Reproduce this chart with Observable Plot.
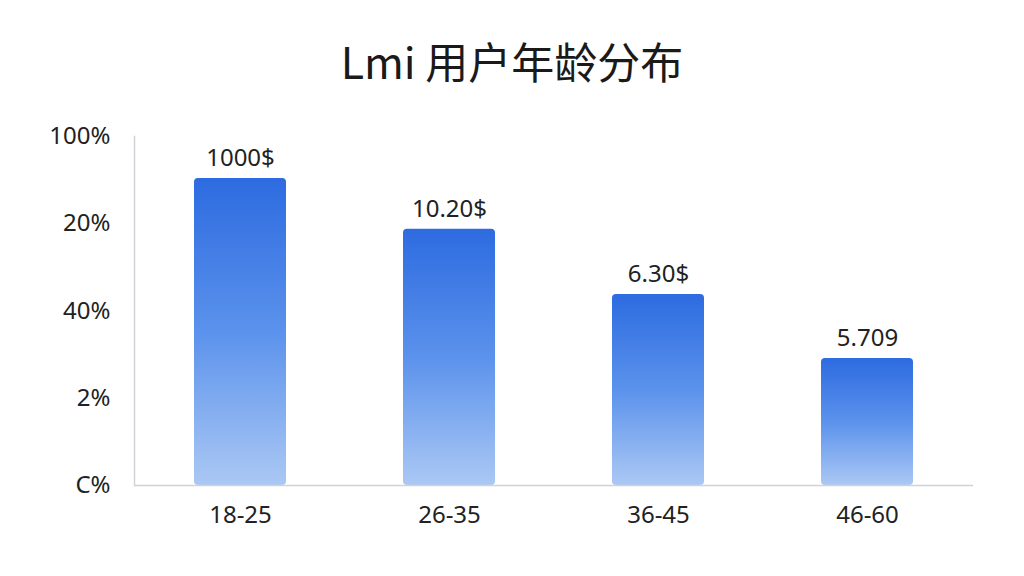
<!DOCTYPE html>
<html>
<head>
<meta charset="utf-8">
<script src="https://cdn.jsdelivr.net/npm/d3@7"></script>
<script src="https://cdn.jsdelivr.net/npm/@observablehq/plot@0.6"></script>
<style>
  html, body { margin: 0; padding: 0; background: #fff; }
  #title {
    height: 110px; line-height: 120px; text-align: center;
    font-family: "Noto Sans CJK SC", "Noto Sans", sans-serif;
    font-size: 43px; color: #1a1a1a; font-weight: 400;
  }
  #chart svg { display: block; }
</style>
</head>
<body>
<div id="title"></div>
<div id="chart"></div>
<script>
const titleText = "Lmi 用户年龄分布";
const categories = ["18-25", "26-35", "36-45", "46-60"];
const values = [88.0, 73.4, 54.7, 36.4];
const valueLabels = ["1000$", "10.20$", "6.30$", "5.709"];
const yTicks = [0, 25, 50, 75, 100];
const yTickLabels = ["C%", "2%", "40%", "20%", "100%"];

document.getElementById("title").textContent = titleText;

const data = categories.map((c, i) => ({cat: c, value: values[i], label: valueLabels[i]}));

const defs = () => {
  const g = d3.create("svg:defs");
  const lg = g.append("linearGradient").attr("id", "barGrad")
    .attr("x1", 0).attr("y1", 0).attr("x2", 0).attr("y2", 1);
  lg.append("stop").attr("offset", "0%").attr("stop-color", "#2d6be0");
  lg.append("stop").attr("offset", "50%").attr("stop-color", "#5b92ec");
  lg.append("stop").attr("offset", "100%").attr("stop-color", "#abc8f4");
  return g.node();
};

const chart = Plot.plot({
  width: 1024,
  height: 466,
  marginLeft: 134,
  marginRight: 51,
  marginTop: 26,
  marginBottom: 91,
  style: {fontFamily: "'Noto Sans', 'Open Sans', sans-serif", fontSize: "24px", color: "#222", background: "#fff"},
  x: {domain: categories, paddingInner: 0.56, paddingOuter: 0.28, label: null, tickSize: 0, tickPadding: 20},
  y: {domain: [0, 100], ticks: yTicks, tickFormat: (d) => yTickLabels[yTicks.indexOf(d)], label: null, tickSize: 0, tickPadding: 24},
  marks: [
    defs,
    Plot.frame({anchor: "left", stroke: "#d0d3d8", strokeWidth: 1.5}),
    Plot.barY(data, {x: "cat", y: "value", fill: "url(#barGrad)", rx: 4}),
    Plot.ruleY([0], {stroke: "#cfd2d6", strokeWidth: 1.5}),
    Plot.text(data, {x: "cat", y: "value", text: "label", dy: -20, fontSize: 24, fill: "#222"}),
  ]
});
document.getElementById("chart").appendChild(chart);
</script>
</body>
</html>
